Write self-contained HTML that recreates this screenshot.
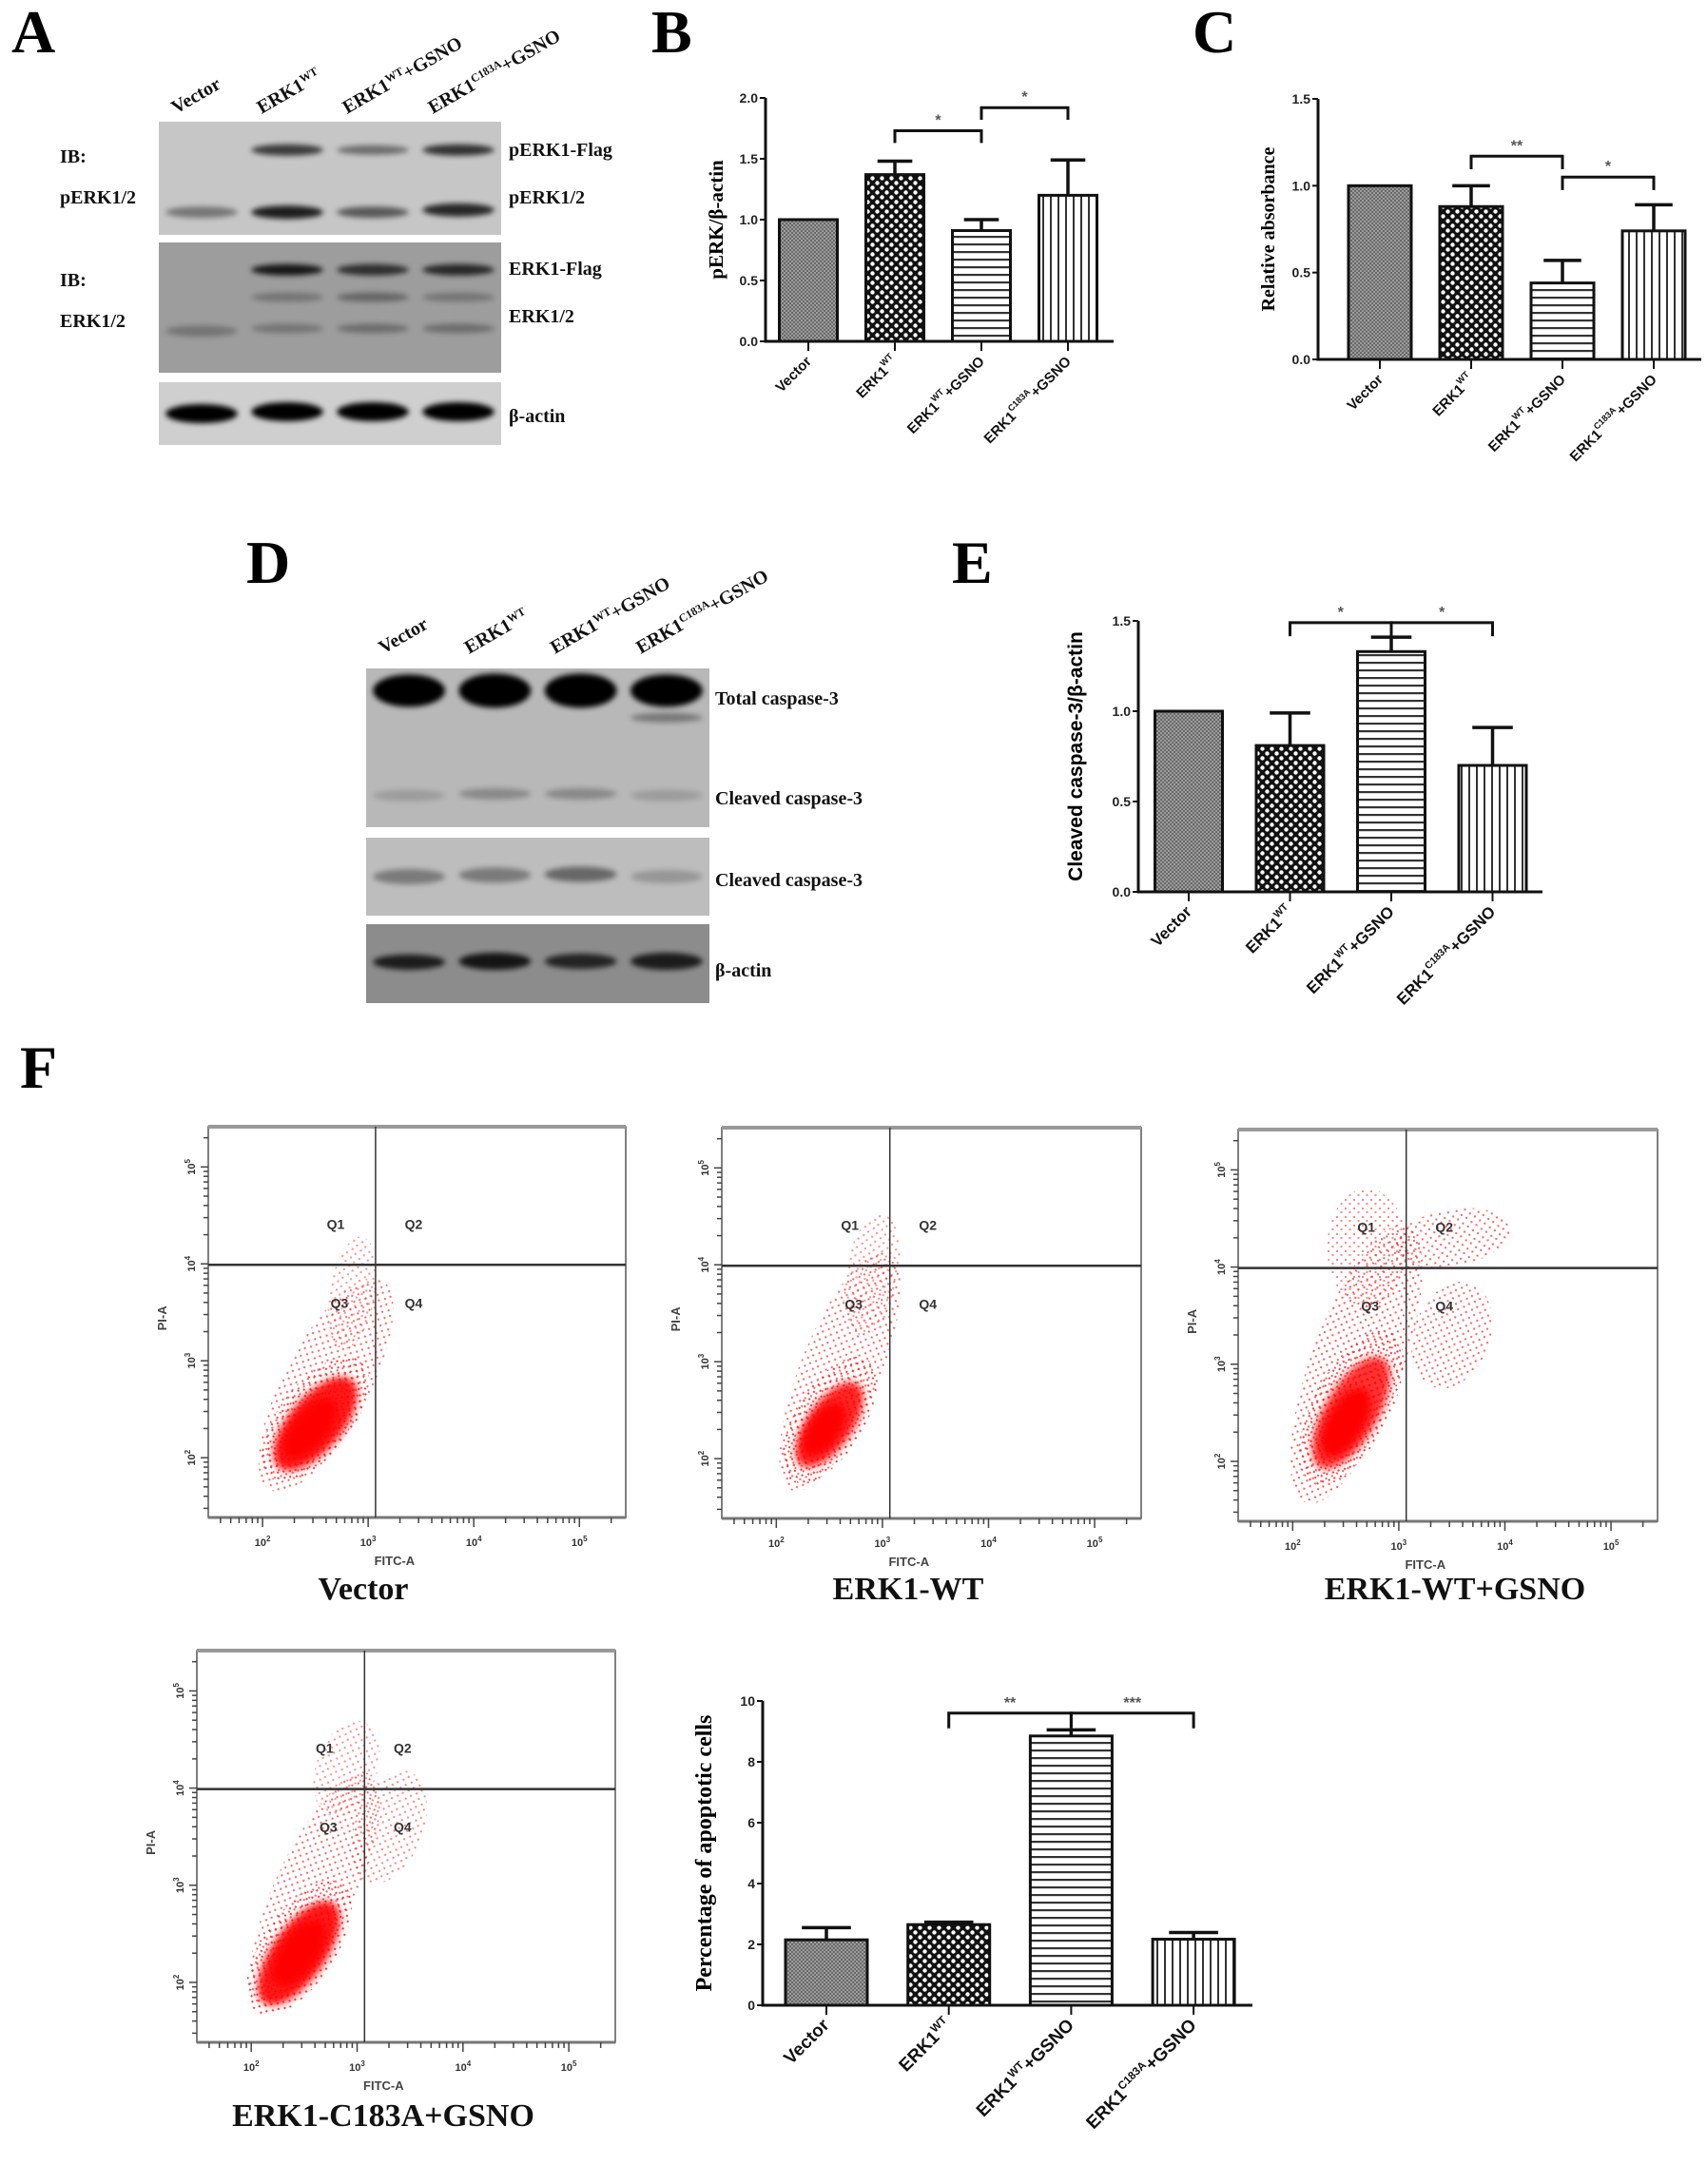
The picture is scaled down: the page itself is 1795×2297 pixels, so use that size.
<!DOCTYPE html>
<html><head><meta charset="utf-8"><title>ERK1 S-nitrosylation figure</title>
<style>
html,body{margin:0;padding:0;background:#fff;}
svg{display:block;}
.serif{font-family:"Liberation Serif","DejaVu Serif",serif;font-weight:bold;}
.sans{font-family:"Liberation Sans","DejaVu Sans",sans-serif;font-weight:bold;}
</style></head>
<body>
<svg id="fig" width="1795" height="2297" viewBox="0 0 1795 2297" xmlns="http://www.w3.org/2000/svg">
<defs>
<filter id="blur3" x="-30%" y="-60%" width="160%" height="220%"><feGaussianBlur stdDeviation="3"/></filter>
<filter id="blur4" x="-50%" y="-80%" width="200%" height="260%"><feGaussianBlur stdDeviation="4"/></filter>
<pattern id="patVector" width="4" height="4" patternUnits="userSpaceOnUse"><rect width="4" height="4" fill="#9a9a9a"/><rect width="2" height="2" fill="#6a6a6a"/><rect x="2" y="2" width="2" height="2" fill="#6a6a6a"/></pattern>
<pattern id="patWT" width="10" height="10" patternUnits="userSpaceOnUse"><rect width="10" height="10" fill="#111"/><circle cx="2.5" cy="2.5" r="2.2" fill="#fff"/><circle cx="7.5" cy="7.5" r="2.2" fill="#fff"/></pattern>
<pattern id="patGSNO" width="8" height="8" patternUnits="userSpaceOnUse"><rect width="8" height="8" fill="#fff"/><rect y="0" width="8" height="2.2" fill="#333"/></pattern>
<pattern id="patC183A" width="8" height="8" patternUnits="userSpaceOnUse"><rect width="8" height="8" fill="#fff"/><rect x="0" width="2" height="8" fill="#333"/></pattern>
<pattern id="dots" width="9" height="9" patternUnits="userSpaceOnUse"><rect x="1" y="1" width="2" height="2" fill="#f22"/><rect x="5.5" y="5" width="2" height="2" fill="#f22"/></pattern>
</defs>
</svg>
<script>
// ---------- DATA ----------
const cats = [['Vector','',''],['ERK1','WT',''],['ERK1','WT','+GSNO'],['ERK1','C183A','+GSNO']];
const valsB = [1.0, 1.37, 0.91, 1.20];
const semB = [0, 0.11, 0.09, 0.29];
const ticksB = [0, 0.5, 1.0, 1.5, 2.0];
const tickLabelsB = ['0.0','0.5','1.0','1.5','2.0'];
const brkFromB = [1, 2], brkToB = [2, 3], brkLvlB = [1.73, 1.92], brkLblB = ['*','*'];

const valsC = [1.0, 0.88, 0.44, 0.74];
const semC = [0, 0.12, 0.13, 0.15];
const ticksC = [0, 0.5, 1.0, 1.5];
const tickLabelsC = ['0.0','0.5','1.0','1.5'];
const brkFromC = [1, 2], brkToC = [2, 3], brkLvlC = [1.17, 1.05], brkLblC = ['**','*'];

const valsE = [1.0, 0.81, 1.33, 0.70];
const semE = [0, 0.18, 0.08, 0.21];
const ticksE = [0, 0.5, 1.0, 1.5];
const tickLabelsE = ['0.0','0.5','1.0','1.5'];
const brkFromE = [1, 2], brkToE = [2, 3], brkLvlE = [1.49, 1.49], brkLblE = ['*','*'];

const valsG = [2.15, 2.65, 8.85, 2.17];
const semG = [0.40, 0.08, 0.20, 0.22];
const ticksG = [0, 2, 4, 6, 8, 10];
const tickLabelsG = ['0','2','4','6','8','10'];
const brkFromG = [1, 2], brkToG = [2, 3], brkLvlG = [9.6, 9.6], brkLblG = ['**','***'];

const flowTitles = ['Vector','ERK1-WT','ERK1-WT+GSNO','ERK1-C183A+GSNO'];
// cloud blobs per plot: [log FITC, log PI, rx px, ry px, angle, opacity, kind]
const cloudsVector = [[2.6,2.75,125,45,-62,0.7,'dots'],[2.85,3.7,60,24,-80,0.5,'dots'],[2.5,2.4,78,38,-52,0.9,'dots'],[2.5,2.35,60,28,-50,0.9,'core'],[2.45,2.3,38,18,-50,1,'core']];
const cloudsWT = [[2.6,2.9,135,42,-68,0.7,'dots'],[2.9,3.9,65,28,-80,0.5,'dots'],[2.5,2.4,75,36,-58,0.9,'dots'],[2.5,2.35,52,24,-55,0.85,'core'],[2.45,2.3,32,16,-55,1,'core']];
const cloudsGSNO = [[2.6,3.0,155,48,-70,0.75,'dots'],[3.5,3.3,58,40,-70,0.7,'dots'],[3.5,4.3,62,30,-10,0.7,'dots'],[2.7,4.2,42,62,0,0.55,'dots'],[2.55,2.55,90,40,-62,0.9,'dots'],[2.55,2.5,66,28,-60,0.8,'core'],[2.5,2.4,40,19,-60,1,'core']];
const cloudsC183A = [[2.6,2.95,135,42,-65,0.7,'dots'],[3.3,3.6,62,36,-70,0.55,'dots'],[2.9,4.2,52,32,-70,0.5,'dots'],[2.45,2.35,82,38,-56,0.9,'dots'],[2.45,2.3,64,28,-55,0.9,'core'],[2.45,2.3,40,19,-55,1,'core']];

// ---------- HELPERS ----------
const svg = document.getElementById('fig');
const NS = 'http://www.w3.org/2000/svg';
function mk(tag, parent, attrs){ const e=document.createElementNS(NS,tag); for(const k in attrs) e.setAttribute(k,attrs[k]); (parent||svg).appendChild(e); return e; }
function txt(parent, x, y, s, cls, size, anchor, extra){ const t=mk('text',parent,Object.assign({x:x,y:y,'font-size':size,'text-anchor':anchor||'start'},extra||{})); t.setAttribute('class',cls); t.textContent=s; return t; }

function panelLetter(ch, x, y){
  const t = txt(svg, x, y, ch, 'serif', 64, 'start');
  
  
}

// ---------- BAR CHARTS ----------
const pats = ['url(#patVector)','url(#patWT)','url(#patGSNO)','url(#patC183A)'];
function barChart(name, g, vals, sem, ticks, tickLabels, bf, bt, bl, blab, yTitle, titleCls, titleSize){
  const grp = mk('g', svg, {});
  
  
  const y = v => g.yBot - (v / g.vmax) * (g.yBot - g.yTop);
  const cx = i => g.c0 + i * g.step;
  vals.forEach((v, i) => {
    const r = mk('rect', grp, {x:cx(i)-g.bw/2, y:y(v), width:g.bw, height:g.yBot-y(v), fill:pats[i], stroke:'#111','stroke-width':3});
    
    
    if (sem[i] > 0) {
      const e = mk('path', grp, {d:`M${cx(i)} ${y(v)} V${y(v+sem[i])} M${cx(i)-g.bw*0.3} ${y(v+sem[i])} H${cx(i)+g.bw*0.3}`, stroke:'#111','stroke-width':3.5, fill:'none'});
      
      
    }
  });
  const ax = mk('path', grp, {d:`M${g.x0} ${g.yTop} V${g.yBot} H${g.x1}`, stroke:'#111','stroke-width':3, fill:'none'});
  
  
  ticks.forEach((t, i) => {
    mk('line', grp, {x1:g.x0-6, x2:g.x0, y1:y(t), y2:y(t), stroke:'#111','stroke-width':2});
    const tl = txt(grp, g.x0-8, y(t)+5, tickLabels[i], 'sans', 14, 'end', {fill:'#222'});
    
    
  });
  cats.forEach((c, i) => {
    mk('line', grp, {x1:cx(i), x2:cx(i), y1:g.yBot, y2:g.yBot+10, stroke:'#111','stroke-width':2});
    const t = txt(grp, cx(i)+4, g.yBot+22, '', 'sans', g.lbl, 'end', {transform:`rotate(-45 ${cx(i)+4} ${g.yBot+22})`, fill:'#111'});
    
    
    const a = mk('tspan', t, {}); a.textContent = c[0];
    if (c[1]) { const s = mk('tspan', t, {dy:-8,'font-size':g.lbl*0.62}); s.textContent = c[1]; }
    if (c[2]) { const r2 = mk('tspan', t, {dy:8}); r2.textContent = c[2]; }
  });
  bf.forEach((f, k) => {
    const yy = y(bl[k]), leg = (g.yBot - g.yTop) * 0.05;
    const b = mk('path', grp, {d:`M${cx(f)} ${yy+leg} V${yy} H${cx(bt[k])} V${yy+leg}`, stroke:'#111','stroke-width':3, fill:'none'});
    
    
    const st = txt(grp, (cx(f)+cx(bt[k]))/2, yy-6, blab[k], 'sans', 16, 'middle', {fill:'#555'});
    
    
  });
  const yt = txt(grp, g.tx, (g.yTop+g.yBot)/2, yTitle, titleCls, titleSize, 'middle', {transform:`rotate(-90 ${g.tx} ${(g.yTop+g.yBot)/2})`});
  
  
}

// ---------- BLOTS ----------
function blot(name, x, y, w, h, bg, bands){
  const g = mk('g', svg, {});
  
  
  mk('rect', g, {x:x, y:y, width:w, height:h, fill:bg});
  const lw = w/4;
  bands.forEach(b => {
    mk('ellipse', g, {cx:x+lw*(b[0]+0.5), cy:y+b[1]*h, rx:lw*0.42, ry:b[3], fill:'#000', opacity:b[2], filter:'url(#blur3)'});
  });
}
function label(x, y, s, size, name){
  const t = txt(svg, x, y, s, 'serif', size, 'start', {fill:'#111'});
  
  
  return t;
}
function laneLabels(x0, w, yb, ang, size){
  const lw = w/4;
  cats.forEach((c, i) => {
    const lx = x0 + lw*i + 18, ly = yb;
    const t = txt(svg, lx, ly, '', 'serif', size, 'start', {transform:`rotate(${ang} ${lx} ${ly})`, fill:'#111'});
    
    
    const a = mk('tspan', t, {}); a.textContent = c[0];
    if (c[1]) { const s = mk('tspan', t, {dy:-7,'font-size':size*0.6}); s.textContent = c[1]; }
    if (c[2]) { const r = mk('tspan', t, {dy:7}); r.textContent = c[2]; }
  });
}

// ---------- FLOW PLOTS ----------
function flow(name, bx, by, bw, bh, clouds, title, tx, ty){
  const g = mk('g', svg, {});
  
  
  const fx = l => bx + bw*(0.13 + (l-2)*0.253);
  const fy = l => by + bh*(0.847 - (l-2)*0.248);
  const clip = 'clip-' + name;
  const cp = mk('clipPath', g, {id:clip}); mk('rect', cp, {x:bx, y:by, width:bw, height:bh});
  const cg = mk('g', g, {'clip-path':`url(#${clip})`});
  clouds.forEach(c => {
    const px = fx(c[0]), py = fy(c[1]);
    const attrs = {cx:px, cy:py, rx:c[2], ry:c[3], transform:`rotate(${c[4]} ${px} ${py})`, fill:c[6]==='core'?'#f00':'url(#dots)', opacity:c[5]};
    if (c[6]==='core') attrs.filter = 'url(#blur4)';
    const e = mk('ellipse', cg, attrs);
    
    
  });
  mk('rect', g, {x:bx, y:by, width:bw, height:bh, fill:'none', stroke:'#555','stroke-width':1.5});
  mk('line', g, {x1:bx, x2:bx+bw, y1:by, y2:by, stroke:'#999','stroke-width':4});
  mk('line', g, {x1:bx, x2:bx+bw, y1:by+bh, y2:by+bh, stroke:'#777','stroke-width':3});
  const hl = mk('line', g, {x1:bx, x2:bx+bw, y1:fy(3.99), y2:fy(3.99), stroke:'#333','stroke-width':2.5});
  
  
  const vl = mk('line', g, {x1:fx(3.07), x2:fx(3.07), y1:by, y2:by+bh, stroke:'#333','stroke-width':1.5});
  
  
  for (let d=1; d<=5; d++) for (let k=1; k<=9; k++) {
    const l = d + Math.log10(k);
    const xx = fx(l); if (xx > bx+2 && xx < bx+bw) mk('line', g, {x1:xx, x2:xx, y1:by+bh, y2:by+bh+(k===1?10:6), stroke:'#444','stroke-width':1.5});
    const yy = fy(l); if (yy > by+4 && yy < by+bh-2) mk('line', g, {x1:bx-(k===1?8:5), x2:bx, y1:yy, y2:yy, stroke:'#444','stroke-width':1.5});
  }
  [2,3,4,5].forEach(d => {
    const xl = txt(g, fx(d), by+bh+30, '10', 'sans', 11, 'middle', {fill:'#333','font-weight':'normal'});
    
    
    const s1 = mk('tspan', xl, {dy:-5,'font-size':8}); s1.textContent = d;
    const yx = bx-14, yy = fy(d);
    const yl = txt(g, yx, yy, '10', 'sans', 11, 'middle', {fill:'#333', transform:`rotate(-90 ${yx} ${yy})`});
    
    
    const s2 = mk('tspan', yl, {dy:-5,'font-size':8}); s2.textContent = d;
  });
  const xa = txt(g, fx(3.25), by+bh+50, 'FITC-A', 'sans', 13, 'middle', {fill:'#444','font-weight':'normal'});
  
  
  const yax = bx-44, yay = by+bh*0.49;
  const ya = txt(g, yax, yay, 'PI-A', 'sans', 13, 'middle', {fill:'#444', transform:`rotate(-90 ${yax} ${yay})`});
  
  
  [['Q1',-42,-38],['Q2',40,-38],['Q3',-38,45],['Q4',40,45]].forEach(q => {
    const t = txt(g, fx(3.07)+q[1], fy(3.99)+q[2], q[0], 'sans', 14, 'middle', {fill:'#333','font-weight':'normal'});
    
    
  });
  const tt = txt(svg, tx, ty, title, 'serif', 34, 'middle', {fill:'#111'});
  
  
}

// ---------- BUILD ----------
panelLetter('A', 12, 55); panelLetter('B', 685, 55); panelLetter('C', 1254, 55);
panelLetter('D', 259, 613); panelLetter('E', 1001, 613); panelLetter('F', 21, 1144);

laneLabels(167, 360, 120, -30, 20);
blot('blot-perk', 167, 128, 360, 119, '#c6c6c6', [[1,0.25,0.7,6],[2,0.25,0.45,5],[3,0.25,0.75,6],[0,0.8,0.4,6],[1,0.8,0.85,7],[2,0.8,0.55,6],[3,0.78,0.8,7]]);
blot('blot-erk', 167, 255, 360, 137, '#9d9d9d', [[1,0.21,0.85,6],[2,0.21,0.7,6],[3,0.21,0.75,6],[1,0.42,0.25,5],[2,0.42,0.35,5],[3,0.42,0.25,5],[0,0.68,0.25,6],[1,0.66,0.25,5],[2,0.66,0.3,5],[3,0.66,0.3,5]]);
blot('blot-actin-a', 167, 402, 360, 66, '#cfcfcf', [[0,0.5,1,10],[1,0.47,1,10],[2,0.47,1,10],[3,0.47,1,10]]);
label(63, 171, 'IB:', 20, 'ib-label'); label(63, 214, 'pERK1/2', 20, 'ib-target-label');
label(63, 301, 'IB:', 20, 'ib-label'); label(63, 344, 'ERK1/2', 20, 'ib-target-label');
label(535, 164, 'pERK1-Flag', 20, 'band-label'); label(535, 214, 'pERK1/2', 20, 'band-label');
label(535, 289, 'ERK1-Flag', 20, 'band-label'); label(535, 339, 'ERK1/2', 20, 'band-label');
label(535, 444, 'β-actin', 20, 'band-label');

barChart('chart-b-perk', {x0:805, x1:1171, yTop:103, yBot:359, vmax:2.0, c0:850, step:91, bw:61, lbl:15, tx:760}, valsB, semB, ticksB, tickLabelsB, brkFromB, brkToB, brkLvlB, brkLblB, 'pERK/β-actin', 'serif', 21);
barChart('chart-c-absorbance', {x0:1386, x1:1789, yTop:104, yBot:378, vmax:1.5, c0:1451, step:96, bw:66, lbl:15, tx:1340}, valsC, semC, ticksC, tickLabelsC, brkFromC, brkToC, brkLvlC, brkLblC, 'Relative absorbance', 'serif', 20);

laneLabels(385, 361, 688, -30, 20);
blot('blot-caspase', 385, 703, 361, 167, '#b8b8b8', [[0,0.14,1,17],[1,0.14,1,18],[2,0.14,1,18],[3,0.14,1,17],[3,0.31,0.35,5],[0,0.8,0.15,6],[1,0.79,0.25,6],[2,0.79,0.25,6],[3,0.8,0.15,6]]);
blot('blot-cleaved', 385, 881, 361, 82, '#bdbdbd', [[0,0.5,0.35,8],[1,0.48,0.35,8],[2,0.47,0.45,8],[3,0.5,0.2,7]]);
blot('blot-actin-d', 385, 972, 361, 83, '#8c8c8c', [[0,0.48,0.8,8],[1,0.47,0.85,9],[2,0.47,0.75,8],[3,0.47,0.8,9]]);
label(752, 741, 'Total caspase-3', 20, 'band-label');
label(752, 846, 'Cleaved caspase-3', 20, 'band-label');
label(752, 932, 'Cleaved caspase-3', 20, 'band-label');
label(752, 1027, 'β-actin', 20, 'band-label');

barChart('chart-e-caspase', {x0:1197, x1:1622, yTop:653, yBot:938, vmax:1.5, c0:1250, step:106.5, bw:71, lbl:17, tx:1138}, valsE, semE, ticksE, tickLabelsE, brkFromE, brkToE, brkLvlE, brkLblE, 'Cleaved caspase-3/β-actin', 'sans', 21);

flow('flow-vector', 219, 1185, 439, 411, cloudsVector, flowTitles[0], 382, 1682);
flow('flow-erk1-wt', 759, 1186, 441, 411, cloudsWT, flowTitles[1], 955, 1682);
flow('flow-erk1-wt-gsno', 1302, 1188, 441, 412, cloudsGSNO, flowTitles[2], 1530, 1682);
flow('flow-erk1-c183a-gsno', 207, 1736, 440, 412, cloudsC183A, flowTitles[3], 403, 2236);
barChart('chart-apoptosis', {x0:802, x1:1317, yTop:1789, yBot:2109, vmax:10, c0:869, step:128.7, bw:86, lbl:19, tx:748}, valsG, semG, ticksG, tickLabelsG, brkFromG, brkToG, brkLvlG, brkLblG, 'Percentage of apoptotic cells', 'serif', 24);
</script>
</body></html>
